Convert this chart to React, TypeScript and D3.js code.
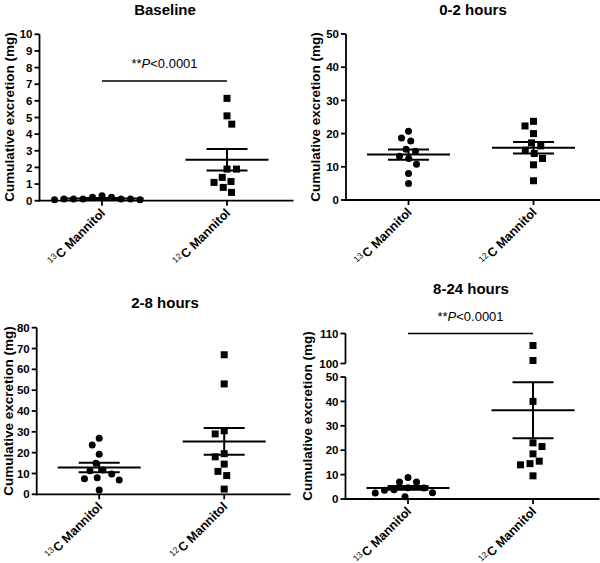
import React from "react";
import * as d3 from "d3";

// ---------- DATA ----------
const categories = ["13C", "12C"];

const baseline13C = [0.2, 0.1, 0.1, 0.1, 0.05, 0.05, 0.1, 0.1, 0.2, 0.3];
const baseline12C = [6.15, 5.1, 4.6, 1.9, 1.9, 1.4, 1.1, 1.15, 0.5, 0.8];

const h0to2_13C = [20.7, 18.7, 17.8, 15.3, 14.7, 13.2, 12.5, 10.8, 8.0, 5.0];
const h0to2_12C = [23.7, 22.3, 20.0, 17.2, 16.3, 15.0, 14.0, 12.5, 10.6, 5.8];

const h2to8_13C = [26.9, 23.7, 19.2, 14.9, 11.3, 11.7, 9.7, 8.0, 6.9, 7.5, 2.1];
const h2to8_12C = [67, 53, 30.5, 29, 19.5, 18, 14.5, 11, 9, 2.5];

const h8to24_13C = [8.8, 7.0, 7.0, 4.6, 4.5, 3.8, 3.6, 2.6, 2.5, 0.9];
const h8to24_12C = [106, 101, 40, 23, 21.5, 18.5, 14.5, 14, 15.5, 9.5];

const baselineTicks = [0, 1, 2, 3, 4, 5, 6, 7, 8, 9, 10];
const h0to2Ticks = [0, 10, 20, 30, 40, 50];
const h2to8Ticks = [0, 10, 20, 30, 40, 50, 60, 70, 80];
const h8to24LowerTicks = [0, 10, 20, 30, 40, 50];
const h8to24UpperTicks = [100, 110];

const titles = ["Baseline", "0-2 hours", "2-8 hours", "8-24 hours"];
const yAxisTitle = "Cumulative excretion (mg)";
const sigLabel = { stars: "**", p: "P", rest: "<0.0001" };
const baselineSigLevel = 7.2;
const h8to24SigLevel = 110;

// ---------- STYLE ----------
const FONT = "'Liberation Sans', Arial, Helvetica, sans-serif";
const AXIS_W = 1.8;
const MEAN_HALF = 41.5;
const CAP_HALF = 20.5;
const MARK = 7;
const SWARM_D = 9.5;

type Piece = { domain: [number, number]; range: [number, number] };

function makeY(pieces: Piece[]) {
  const scales = pieces.map((p) => d3.scaleLinear().domain(p.domain).range(p.range));
  return (v: number) => {
    for (let i = 0; i < pieces.length; i++) {
      const [a, b] = pieces[i].domain;
      if (v >= a && v <= b) return scales[i](v);
    }
    if (v < pieces[0].domain[0]) return scales[0](v);
    let best = 0;
    for (let i = 0; i < pieces.length; i++) if (v >= pieces[i].domain[0]) best = i;
    return scales[best](v);
  };
}

function swarm(values: number[], y: (v: number) => number, cx: number, d: number) {
  const order = values.map((_, i) => i).sort((a, b) => values[b] - values[a]);
  const placed: { x: number; y: number }[] = [];
  const out: { x: number; y: number }[] = new Array(values.length);
  order.forEach((idx, n) => {
    const py = y(values[idx]);
    let found = cx;
    const sign = n % 2 === 0 ? 1 : -1;
    for (let off = 0; off < 200; off += 0.25) {
      const cands = off === 0 ? [cx] : [cx + sign * off, cx - sign * off];
      let ok: number | null = null;
      for (const x of cands) {
        if (placed.every((p) => (p.x - x) ** 2 + (p.y - py) ** 2 >= d * d)) {
          ok = x;
          break;
        }
      }
      if (ok !== null) {
        found = ok;
        break;
      }
    }
    const pt = { x: found, y: py };
    placed.push(pt);
    out[idx] = pt;
  });
  return out;
}

function CatLabel({ x, y, iso }: { x: number; y: number; iso: string }) {
  return (
    <text
      transform={`translate(${x},${y}) rotate(-45)`}
      textAnchor="end"
      fontFamily={FONT}
      fill="#000"
    >
      <tspan fontSize={8.5} dy={-4} fill="#000">{iso.replace("C", "")}</tspan>
      <tspan fontSize={12.5} fontWeight="bold" dy={4} dx={1} fill="#000">C Mannitol</tspan>
    </text>
  );
}

type PanelProps = {
  title: string;
  titleX: number;
  titleY: number;
  axisX: number;
  pieces: Piece[];
  ticks: number[][];
  data: number[][];
  ylabX: number;
  ylabY: number;
  sigLevel?: number;
};

function Panel(p: PanelProps) {
  const y = makeY(p.pieces);
  const x = d3
    .scalePoint<string>()
    .domain(categories)
    .range([p.axisX, p.axisX + 250])
    .padding(0.5);
  const y0 = y(0);
  const xEnd = p.axisX + 254;

  return (
    <g>
      <text
        x={p.titleX}
        y={p.titleY}
        textAnchor="middle"
        fontFamily={FONT}
        fontWeight="bold"
        fontSize={15}
        fill="#000"
      >
        {p.title}
      </text>
      <text
        transform={`translate(${p.ylabX},${p.ylabY}) rotate(-90)`}
        textAnchor="middle"
        fontFamily={FONT}
        fontWeight="bold"
        fontSize={13.5}
        fill="#000"
      >
        {yAxisTitle}
      </text>
      {p.pieces.map((pc, i) => (
        <line
          key={"ys" + i}
          x1={p.axisX}
          x2={p.axisX}
          y1={y(pc.domain[0]) + (i === 0 ? AXIS_W / 2 : 0)}
          y2={y(pc.domain[1])}
          stroke="#000"
          strokeWidth={AXIS_W}
        />
      ))}
      {p.ticks.flat().map((t) => (
        <g key={"t" + t}>
          <line x1={p.axisX - 5} x2={p.axisX} y1={y(t)} y2={y(t)} stroke="#000" strokeWidth={AXIS_W} />
          <text
            x={p.axisX - 7}
            y={y(t)}
            dy="0.36em"
            textAnchor="end"
            fontFamily={FONT}
            fontWeight="bold"
            fontSize={11.5}
            fill="#000"
          >
            {t}
          </text>
        </g>
      ))}
      <line x1={p.axisX - AXIS_W / 2} x2={xEnd} y1={y0} y2={y0} stroke="#000" strokeWidth={AXIS_W} />
      {categories.map((c) => (
        <g key={"xc" + c}>
          <line x1={x(c)} x2={x(c)} y1={y0} y2={y0 + 5} stroke="#000" strokeWidth={AXIS_W} />
          <CatLabel x={(x(c) as number) + 4} y={y0 + 13} iso={c} />
        </g>
      ))}
      {p.data.map((vals, gi) => {
        const cx = x(categories[gi]) as number;
        const pts = swarm(vals, y, cx, SWARM_D);
        const m = d3.mean(vals) as number;
        const sem = (d3.deviation(vals) as number) / Math.sqrt(vals.length);
        return (
          <g key={"g" + gi}>
            {pts.map((pt, i) =>
              gi === 0 ? (
                <circle key={i} cx={pt.x} cy={pt.y} r={MARK / 2} fill="#000" />
              ) : (
                <rect key={i} x={pt.x - MARK / 2} y={pt.y - MARK / 2} width={MARK} height={MARK} fill="#000" />
              )
            )}
            <line x1={cx - MEAN_HALF} x2={cx + MEAN_HALF} y1={y(m)} y2={y(m)} stroke="#000" strokeWidth={2} />
            <line x1={cx} x2={cx} y1={y(m - sem)} y2={y(m + sem)} stroke="#000" strokeWidth={2} />
            <line x1={cx - CAP_HALF} x2={cx + CAP_HALF} y1={y(m + sem)} y2={y(m + sem)} stroke="#000" strokeWidth={2} />
            <line x1={cx - CAP_HALF} x2={cx + CAP_HALF} y1={y(m - sem)} y2={y(m - sem)} stroke="#000" strokeWidth={2} />
          </g>
        );
      })}
      {p.sigLevel !== undefined && (
        <g>
          <line
            x1={x(categories[0])}
            x2={x(categories[1])}
            y1={y(p.sigLevel)}
            y2={y(p.sigLevel)}
            stroke="#000"
            strokeWidth={1.5}
          />
          <text
            x={((x(categories[0]) as number) + (x(categories[1]) as number)) / 2}
            y={y(p.sigLevel) - 12.5}
            textAnchor="middle"
            fontFamily={FONT}
            fontSize={13}
            fill="#000"
          >
            {sigLabel.stars}
            <tspan fontStyle="italic">{sigLabel.p}</tspan>
            {sigLabel.rest}
          </text>
        </g>
      )}
    </g>
  );
}

export default function App() {
  return (
    <svg
      width={600}
      height={563}
      style={{ position: "absolute", left: 0, top: 0, background: "#fff" }}
    >
      <rect width={600} height={563} fill="#fff" />
      <Panel
        title={titles[0]}
        titleX={165}
        titleY={14.5}
        axisX={39.5}
        pieces={[{ domain: [0, 10], range: [200.7, 34.3] }]}
        ticks={[baselineTicks]}
        data={[baseline13C, baseline12C]}
        ylabX={13.5}
        ylabY={117}
        sigLevel={baselineSigLevel}
      />
      <Panel
        title={titles[1]}
        titleX={473}
        titleY={14.5}
        axisX={346}
        pieces={[{ domain: [0, 50], range: [200, 34] }]}
        ticks={[h0to2Ticks]}
        data={[h0to2_13C, h0to2_12C]}
        ylabX={320}
        ylabY={117}
      />
      <Panel
        title={titles[2]}
        titleX={165}
        titleY={307.5}
        axisX={36.7}
        pieces={[{ domain: [0, 80], range: [494.3, 327.7] }]}
        ticks={[h2to8Ticks]}
        data={[h2to8_13C, h2to8_12C]}
        ylabX={12.5}
        ylabY={411}
      />
      <Panel
        title={titles[3]}
        titleX={471}
        titleY={294}
        axisX={345.5}
        pieces={[
          { domain: [0, 50], range: [499, 377] },
          { domain: [100, 110], range: [363.5, 333.5] },
        ]}
        ticks={[h8to24LowerTicks, h8to24UpperTicks]}
        data={[h8to24_13C, h8to24_12C]}
        ylabX={312}
        ylabY={416}
        sigLevel={h8to24SigLevel}
      />
    </svg>
  );
}
